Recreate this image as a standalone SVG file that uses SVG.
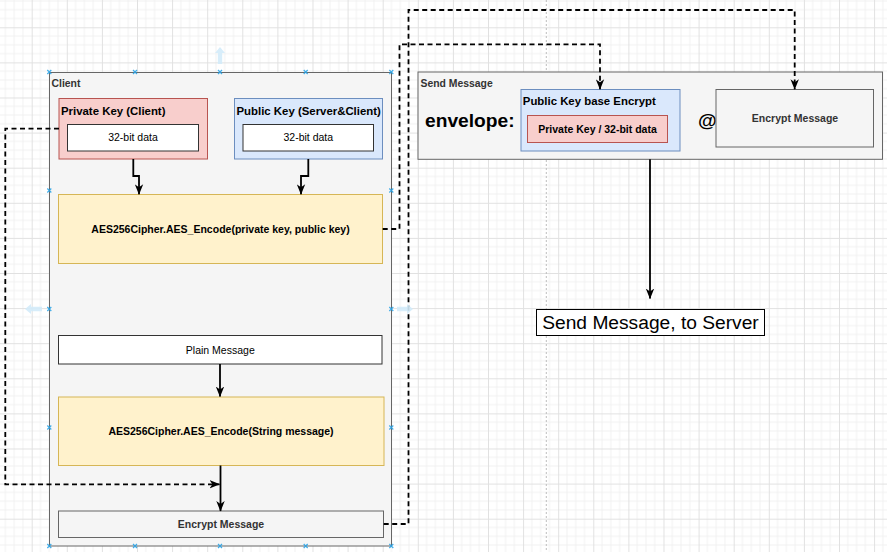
<svg xmlns="http://www.w3.org/2000/svg" width="887" height="552" viewBox="0 0 887 552">
<defs>
<pattern id="grid" patternUnits="userSpaceOnUse" x="31.7" y="27.3" width="35.1" height="35.1">
<path d="M8.775,0V35.1M17.55,0V35.1M26.325,0V35.1M0,8.775H35.1M0,17.55H35.1M0,26.325H35.1" stroke="#f1f1f1" stroke-width="1" fill="none"/>
<path d="M0.5,0V35.1M0,0.5H35.1" stroke="#e1e1e1" stroke-width="1" fill="none"/>
</pattern>
<marker id="arr" markerUnits="userSpaceOnUse" viewBox="0 0 10 8" refX="9.5" refY="4" markerWidth="10.5" markerHeight="9" orient="auto">
<path d="M0,0 L10,4 L0,8 L2.8,4 Z" fill="#000"/>
</marker>
<g id="hx"><path d="M-2,-2L2,2M2,-2L-2,2" stroke="#29a3e6" stroke-width="1.2"/></g>
</defs>
<style>
.box{stroke-width:1}
.grey{fill:#f5f5f5;stroke:#666}
.red{fill:#f8cecc;stroke:#b85450}
.blue{fill:#dae8fc;stroke:#6c8ebf}
.yel{fill:#fff2cc;stroke:#d6b656}
.wht{fill:#fff;stroke:#333}
.t{font-family:"Liberation Sans",Arial,Helvetica,sans-serif;fill:#000}
.b{font-weight:bold}
.s{font-size:10.5px}
.m{font-size:11.4px}
.c{text-anchor:middle}
.g3{fill:#333}
.edge{fill:none;stroke:#000;stroke-width:1.8}
.dash{stroke-dasharray:5 3.5}
</style>
<rect width="887" height="552" fill="#fff"/>
<rect width="887" height="552" fill="url(#grid)"/>
<path d="M546.3,0V552" stroke="#bdbdbd" stroke-width="1" stroke-dasharray="2 2"/>

<g id="client">
<rect class="box grey" x="49.5" y="72.5" width="342" height="473.5"/>
<text class="t b g3" x="51.5" y="86.5" font-size="10.4">Client</text>
</g>

<g id="private-key">
<rect class="box red" x="59" y="98.5" width="148.5" height="60.5"/>
<text class="t b m" x="61" y="114.7">Private Key (Client)</text>
<rect class="box wht" x="67.5" y="124.5" width="131" height="26.5"/>
<text class="t s c" x="133" y="141.3">32-bit data</text>
</g>

<g id="public-key">
<rect class="box blue" x="234.5" y="98.5" width="148" height="60.5"/>
<text class="t b m" x="236.5" y="114.7">Public Key (Server&amp;Client)</text>
<rect class="box wht" x="243" y="124.5" width="130.5" height="26.5"/>
<text class="t s c" x="308.3" y="141.3">32-bit data</text>
</g>

<g id="aes-key">
<rect class="box yel" x="58.5" y="194.5" width="324" height="69"/>
<text class="t b s c" x="220.5" y="232.8">AES256Cipher.AES_Encode(private key, public key)</text>
</g>

<g id="plain-message">
<rect class="box wht" x="58.5" y="335.5" width="323.5" height="28.5"/>
<text class="t s c" x="220.3" y="353.6">Plain Message</text>
</g>

<g id="aes-message">
<rect class="box yel" x="58.5" y="397" width="325.5" height="68.5"/>
<text class="t b s c" x="221" y="435">AES256Cipher.AES_Encode(String message)</text>
</g>

<g id="encrypt-client">
<rect class="box grey" x="58.5" y="511" width="325" height="26.5" stroke="#888"/>
<text class="t b s c g3" x="221" y="528.2">Encrypt Message</text>
</g>

<g id="send-message">
<rect class="box grey" x="418" y="72" width="464.5" height="87.3"/>
<text class="t b g3" x="420.5" y="87" font-size="10.4">Send Message</text>
<text class="t b" x="425" y="127" font-size="19.2">envelope:</text>
<text class="t b" x="698" y="127" font-size="19.2">@</text>
</g>

<g id="public-encrypt">
<rect class="box blue" x="521" y="89.5" width="159" height="61.5"/>
<text class="t b m" x="522.8" y="105.3">Public Key base Encrypt</text>
<rect class="box red" x="527.5" y="115.5" width="140" height="27"/>
<text class="t b s c" x="597.5" y="132.5">Private Key / 32-bit data</text>
</g>

<g id="encrypt-server">
<rect class="box grey" x="716" y="89.5" width="157.5" height="57.5"/>
<text class="t b s c g3" x="795" y="122">Encrypt Message</text>
</g>

<g id="to-server">
<rect x="536.5" y="309.5" width="228" height="26" fill="#fff" stroke="#000" stroke-width="1"/>
<text class="t c" x="650.5" y="328.8" font-size="19.2">Send Message, to Server</text>
</g>

<g id="connectors">
<path class="edge" d="M133.3,159V176H139V194.3" marker-end="url(#arr)"/>
<path class="edge" d="M308.3,159V176H301V194.3" marker-end="url(#arr)"/>
<path class="edge" d="M220,364V396.5" marker-end="url(#arr)"/>
<path class="edge" d="M220.5,465.5V511" marker-end="url(#arr)"/>
<path class="edge dash" d="M59,128.7H5.3V484.3H219.5" marker-end="url(#arr)"/>
<path class="edge dash" d="M382.7,229H399.5V44.3H600V89.3" marker-end="url(#arr)"/>
<path class="edge dash" d="M383.7,524H408.5V10H794.7V89.3" marker-end="url(#arr)"/>
<path class="edge" d="M650,159.3V298.5" marker-end="url(#arr)"/>
</g>

<g id="selection" opacity="0.9">
<use href="#hx" x="49.3" y="72"/><use href="#hx" x="135" y="72"/><use href="#hx" x="220" y="72"/><use href="#hx" x="305.7" y="72"/><use href="#hx" x="391.3" y="72"/>
<use href="#hx" x="49.3" y="190.5"/><use href="#hx" x="49.3" y="309"/><use href="#hx" x="49.3" y="427.5"/>
<use href="#hx" x="391.3" y="190.5"/><use href="#hx" x="391.3" y="309"/><use href="#hx" x="391.3" y="427.5"/>
<use href="#hx" x="49.3" y="546"/><use href="#hx" x="135" y="546"/><use href="#hx" x="220" y="546"/><use href="#hx" x="305.7" y="546"/><use href="#hx" x="391.3" y="546"/>
<path d="M220,47L225,53H222.2V64H217.8V53H215Z" fill="#d3ebfa"/>
<path d="M25,309L31,304V306.8H42V311.2H31V314Z" fill="#d3ebfa"/>
<path d="M413,309L407,304V306.8H397V311.2H407V314Z" fill="#d3ebfa"/>
</g>
</svg>
